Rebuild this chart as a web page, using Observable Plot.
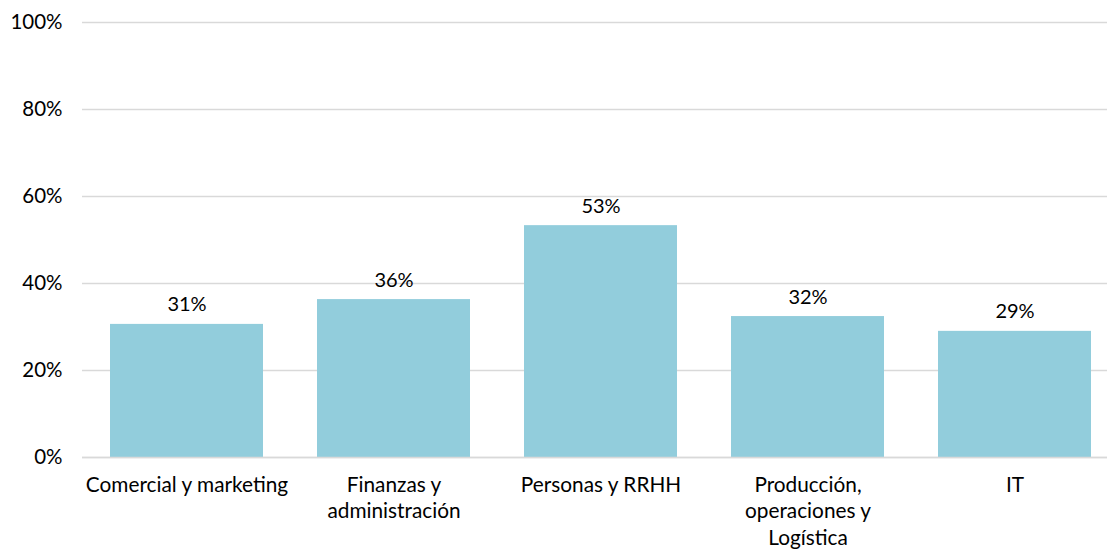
<!DOCTYPE html>
<html>
<head>
<meta charset="utf-8">
<script src="https://cdn.jsdelivr.net/npm/d3@7"></script>
<script src="https://cdn.jsdelivr.net/npm/@observablehq/plot@0.6"></script>
<style>
  html, body { margin: 0; padding: 0; background: #fff; }
  #chart svg { display: block; }
</style>
</head>
<body>
<div id="chart"></div>
<script>
const categories = ["Comercial y marketing", "Finanzas y administración", "Personas y RRHH", "Producción, operaciones y Logística", "IT"];
const tickLabels = ["Comercial y marketing", "Finanzas y\nadministración", "Personas y RRHH", "Producción,\noperaciones y\nLogística", "IT"];
const values = [30.6, 36.3, 53.3, 32.4, 29.0];
const yTicks = [0, 20, 40, 60, 80, 100];

const data = categories.map((c, i) => ({cat: c, value: values[i], label: tickLabels[i]}));
const labelOf = new Map(data.map(d => [d.cat, d.label]));

const chart = Plot.plot({
  width: 1107,
  height: 550,
  marginLeft: 82,
  marginRight: 0,
  marginTop: 22,
  marginBottom: 93,
  style: {fontFamily: "Lato, sans-serif", fontSize: "20px", color: "#000", background: "#fff"},
  x: {domain: categories, range: [81, 1120], paddingInner: 0.26, paddingOuter: 0.13, label: null},
  y: {domain: [0, 100], label: null},
  marks: [
    Plot.ruleY(yTicks, {stroke: "#d9d9d9", strokeWidth: 1.5}),
    Plot.barY(data, {x: "cat", y: "value", fill: "#92cddc"}),
    Plot.ruleY([0], {stroke: "#d9d9d9", strokeWidth: 1.5}),
    Plot.text(data, {x: "cat", y: "value", text: d => Math.round(d.value) + "%", lineAnchor: "bottom", dy: -13, fontSize: 20, fill: "#000"}),
    Plot.axisY({ticks: yTicks, tickSize: 0, tickPadding: 20, tickFormat: d => d + "%", fontSize: 20.5, fill: "#000", label: null}),
    Plot.axisX({tickSize: 0, tickPadding: 16, tickFormat: c => labelOf.get(c), lineHeight: 1.26, fontSize: 20.8, fill: "#000", label: null})
  ]
});
document.getElementById("chart").append(chart);
</script>
</body>
</html>
